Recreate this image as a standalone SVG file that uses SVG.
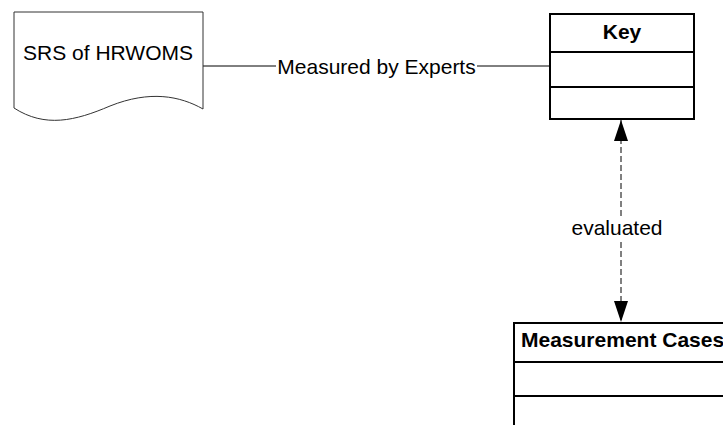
<svg xmlns="http://www.w3.org/2000/svg" width="723" height="425" viewBox="0 0 723 425">
  <style>
    .lbl { font-family: "Liberation Sans", Arial, sans-serif; font-size: 21px; fill: #000; }
    .title { font-family: "Liberation Sans", Arial, sans-serif; font-size: 21px; font-weight: bold; fill: #000; }
    .doc { fill: #fff; stroke: #333; stroke-width: 1; }
    .cls { fill: #fff; stroke: #000; stroke-width: 2; }
    .sep { stroke: #000; stroke-width: 2; }
    .link { fill: none; stroke: #000; stroke-width: 1; }
    .dash { fill: none; stroke: #000; stroke-width: 1; stroke-dasharray: 6 3; }
  </style>
  <defs>
    <marker id="arrow" viewBox="0 0 21 14" refX="21" refY="7" markerWidth="21" markerHeight="14" markerUnits="userSpaceOnUse" orient="auto">
      <path d="M0,0 L21,7 L0,14 Z" fill="#000"/>
    </marker>
  </defs>
  <rect width="723" height="425" fill="#fff"/>

  <g id="connectors">
    <!-- document to Key class -->
    <line class="link" x1="203" y1="66" x2="276" y2="66"/>
    <line class="link" x1="477" y1="66" x2="550" y2="66"/>
    <text class="lbl" x="376.5" y="74" text-anchor="middle">Measured by Experts</text>
    <!-- Key to Measurement Cases, bidirectional -->
    <line class="dash" x1="621" y1="216" x2="621" y2="120" marker-end="url(#arrow)"/>
    <line class="dash" x1="621" y1="242" x2="621" y2="322" marker-end="url(#arrow)"/>
    <text class="lbl" x="617" y="235" text-anchor="middle">evaluated</text>
  </g>

  <g id="srs-document">
    <path class="doc" d="M14,12 L203,12 L203,109 C180,96 150,90 110,106 C75,121 45,128 14,108 Z"/>
    <text class="lbl" x="108" y="60" text-anchor="middle">SRS of HRWOMS</text>
  </g>

  <g id="key-class">
    <rect class="cls" x="550" y="14" width="144" height="105"/>
    <line class="sep" x1="550" y1="52" x2="694" y2="52"/>
    <line class="sep" x1="550" y1="87" x2="694" y2="87"/>
    <text class="title" x="622" y="39" text-anchor="middle">Key</text>
  </g>

  <g id="measurement-cases-class">
    <rect class="cls" x="514" y="323" width="260" height="140"/>
    <line class="sep" x1="514" y1="362" x2="723" y2="362"/>
    <line class="sep" x1="514" y1="396" x2="723" y2="396"/>
    <text class="title" x="521" y="347">Measurement Cases</text>
  </g>
</svg>
